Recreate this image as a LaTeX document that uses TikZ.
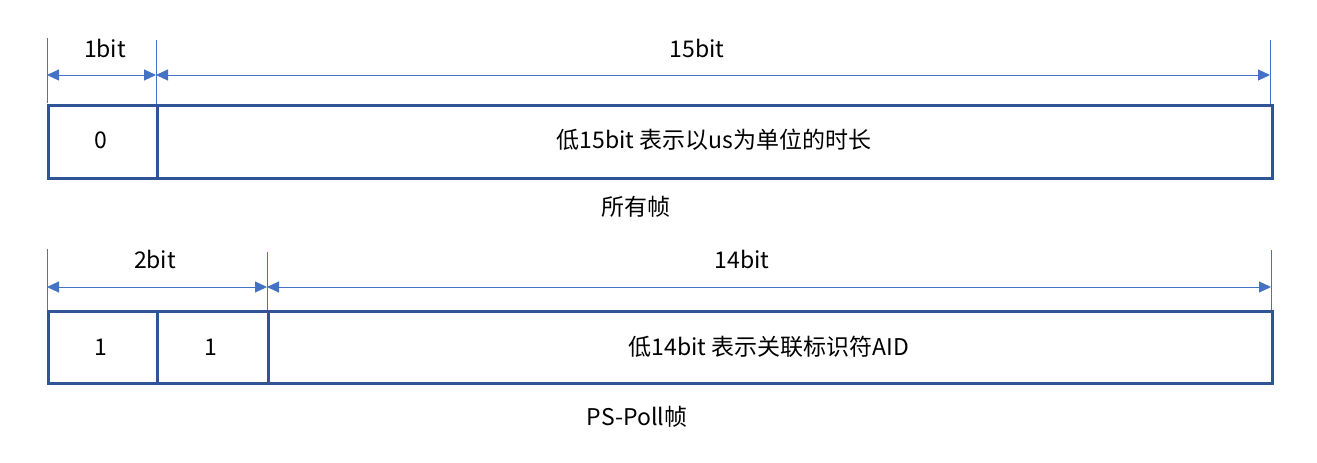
\documentclass[tikz,border=0pt]{standalone}
\usepackage{fontspec}
\setmainfont{Noto Sans CJK SC}
\usetikzlibrary{arrows.meta}
\definecolor{boxblue}{HTML}{2F5597}
\definecolor{dimblue}{HTML}{4472C4}
\tikzset{
  cell/.style={draw=boxblue, line width=3pt, anchor=north west, inner sep=0pt},
  dimline/.style={draw=dimblue, line width=1pt, {Triangle[length=12pt,width=11pt]}-{Triangle[length=12pt,width=11pt]}},
  extline/.style={draw=dimblue, line width=1pt},
  lbl/.style={inner sep=0pt, font=\fontsize{23}{27}\selectfont},
}
\begin{document}
\begin{tikzpicture}[x=1pt,y=-1pt]
\useasboundingbox (0,0) rectangle (1317,463);
% top frame
\node[cell, minimum width=109pt, minimum height=73pt] (c0) at (47,104) {};
\node[cell, minimum width=1115pt, minimum height=73pt] (c1) at (156,104) {};
\node[lbl] at (101,140) {0};
\node[lbl] at (714,140) {低15bit 表示以us为单位的时长};
\node[lbl] (t1) at (636,207) {所有帧};
% top dimensions
\coordinate (e0t) at (47,38);  \coordinate (e0b) at (47,103);
\coordinate (e1t) at (156,40); \coordinate (e1b) at (156,104);
\coordinate (e2t) at (1270,40); \coordinate (e2b) at (1270,104);
\draw[extline] (e0t) -- (e0b);
\draw[extline] (e1t) -- (e1b);
\draw[extline] (e2t) -- (e2b);
\coordinate (a0) at (47,75); \coordinate (a1) at (156,75); \coordinate (a2) at (1270,75);
\draw[dimline] (a0) -- (a1);
\draw[dimline] (a1) -- (a2);
\node[lbl] at (105,48) {1bit};
\node[lbl] at (697,48) {15bit};
% bottom frame
\node[cell, minimum width=109pt, minimum height=72pt] (d0) at (47,310) {};
\node[cell, minimum width=111pt, minimum height=72pt] (d1) at (156,310) {};
\node[cell, minimum width=1004pt, minimum height=72pt] (d2) at (267,310) {};
\node[lbl] at (101,347) {1};
\node[lbl] at (211,347) {1};
\node[lbl] at (769,347) {低14bit 表示关联标识符AID};
\node[lbl] (t2) at (637,417) {PS-Poll帧};
% bottom dimensions
\coordinate (f0t) at (47,249);  \coordinate (f0b) at (47,310);
\coordinate (f1t) at (267,252); \coordinate (f1b) at (267,310);
\coordinate (f2t) at (1271,250); \coordinate (f2b) at (1271,310);
\draw[extline] (f0t) -- (f0b);
\draw[extline] (f1t) -- (f1b);
\draw[extline] (f2t) -- (f2b);
\coordinate (b0) at (47,287); \coordinate (b1) at (267,287); \coordinate (b2) at (1271,287);
\draw[dimline] (b0) -- (b1);
\draw[dimline] (b1) -- (b2);
\node[lbl] at (155,259) {2bit};
\node[lbl] at (742,259) {14bit};
\end{tikzpicture}
\end{document}
